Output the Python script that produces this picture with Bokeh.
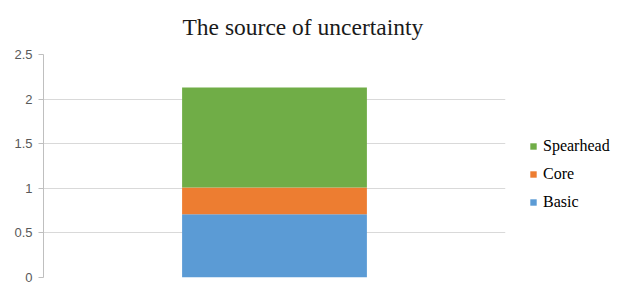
from bokeh.plotting import figure
from bokeh.models import Range1d, FactorRange, Legend, LegendItem, FixedTicker
from bokeh.embed import file_html
from bokeh.resources import INLINE

categories = ["source"]
series = ["Basic", "Core", "Spearhead"]
basic = [0.71]
core = [0.30]
spearhead = [1.12]
colors = ["#5B9BD5", "#ED7D31", "#70AD47"]
y_ticks = [0, 0.5, 1, 1.5, 2, 2.5]
y_tick_labels = ["0", "0.5", "1", "1.5", "2", "2.5"]

data = {"cat": categories, "Basic": basic, "Core": core, "Spearhead": spearhead}

p = figure(frame_width=462, frame_height=223, output_backend="svg", toolbar_location=None,
           x_range=FactorRange(*categories), y_range=Range1d(0, 2.5),
           title="The source of uncertainty")
p.min_border_left = 43
p.min_border_right = 117
p.min_border_top = 53
p.min_border_bottom = 9
p.outline_line_color = None

renderers = p.vbar_stack(series, x="cat", width=0.4, color=colors, source=data,
                         line_color=None)

p.title.align = "left"
p.title.offset = 139
p.title.vertical_align = "top"
p.title.text_font = "Liberation Serif"
p.title.text_font_size = "23.5px"
p.title.text_font_style = "normal"
p.title.text_color = "#1a1a1a"
p.title.standoff = 26

p.xaxis.visible = False
p.xgrid.grid_line_color = None
p.ygrid.grid_line_color = "#d9d9d9"
p.ygrid.ticker = FixedTicker(ticks=y_ticks)

ya = p.yaxis[0]
ya.ticker = FixedTicker(ticks=y_ticks)
ya.major_label_overrides = {t: l for t, l in zip(y_ticks, y_tick_labels)}
ya.axis_line_color = "#bfbfbf"
ya.major_tick_line_color = "#bfbfbf"
ya.major_tick_in = 0
ya.major_tick_out = 5
ya.minor_tick_line_color = None
ya.major_label_text_font = "Liberation Sans"
ya.major_label_text_font_size = "13px"
ya.major_label_text_color = "#595959"
ya.major_label_standoff = 6

items = [LegendItem(label=s, renderers=[r]) for s, r in zip(series, renderers)]
legend = Legend(items=items[::-1], location=(24, 66))
legend.padding = 0
legend.margin = 0
legend.spacing = 10
legend.glyph_width = 8
legend.glyph_height = 8
legend.label_height = 17
legend.label_standoff = 6
legend.label_text_font = "Liberation Serif"
legend.label_text_font_size = "16px"
legend.label_text_color = "#000000"
legend.border_line_color = None
legend.background_fill_alpha = 0
p.add_layout(legend, "right")

open("out.html", "w").write(file_html(p, INLINE))
